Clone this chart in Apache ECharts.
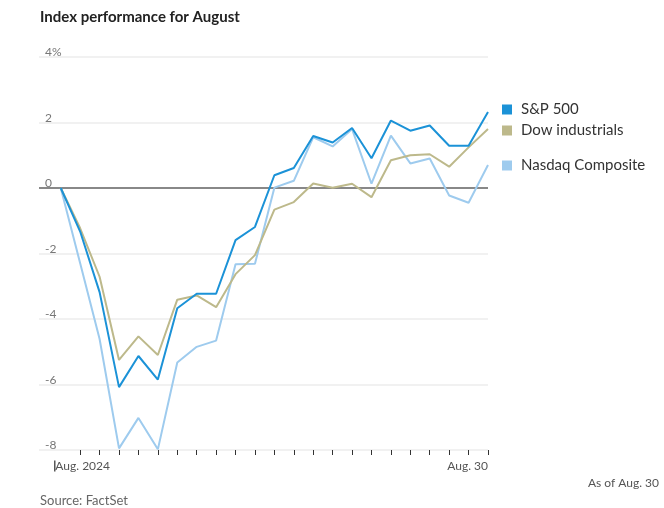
<!DOCTYPE html>
<html>
<head>
<meta charset="utf-8">
<script src="https://cdn.jsdelivr.net/npm/echarts@6/dist/echarts.min.js"></script>
<style>
html,body{margin:0;padding:0;background:#fff;}
#c{width:664px;height:508px;}
</style>
</head>
<body>
<div id="c"></div>
<script>
var dayIndex = [0,1,2,3,4,5,6,7,8,9,10,11,12,13,14,15,16,17,18,19,20,21,22];
var sp500 = [0,-1.33,-3.18,-6.08,-5.13,-5.85,-3.67,-3.23,-3.23,-1.59,-1.19,0.39,0.61,1.59,1.39,1.83,0.91,2.06,1.75,1.91,1.29,1.29,2.32];
var dow = [0,-1.23,-2.71,-5.25,-4.53,-5.10,-3.41,-3.28,-3.64,-2.63,-2.05,-0.66,-0.43,0.14,0.01,0.13,-0.28,0.85,1.00,1.03,0.65,1.24,1.80];
var nasdaq = [0,-2.30,-4.61,-7.95,-7.02,-7.98,-5.33,-4.85,-4.66,-2.33,-2.31,0.01,0.22,1.55,1.27,1.80,0.13,1.60,0.75,0.90,-0.23,-0.45,0.70];
var seriesNames = ['S&P 500','Dow industrials','Nasdaq Composite'];
var seriesColors = ['#1b92d7','#bdb98b','#9ecbee'];
var xTickValues = [1,2,3,4,5,6,7,8,9,10,11,12,13,14,15,16,17,18,19,20,21,22];
var startLabel = 'Aug. 2024';
var endLabel = 'Aug. 30';

var FONT = 'Lato,"Liberation Sans",sans-serif';

function pairs(arr){ return arr.map(function(v,i){ return [dayIndex[i], v]; }); }

var chart = echarts.init(document.getElementById('c'), null, {renderer:'canvas'});
var legendTops = [102, 123, 158];
var option = {
  animation: false,
  textStyle: {fontFamily: FONT},
  title: [{
    text: 'Index performance for August',
    left: 40, top: 10, padding: 0,
    textStyle: {fontFamily: FONT, fontSize: 15, fontWeight: 'bold', color: '#222'}
  },{
    text: 'Source: FactSet',
    left: 40, top: 494, padding: 0,
    textStyle: {fontFamily: FONT, fontSize: 13, fontWeight: 'normal', color: '#666'}
  },{
    text: 'As of Aug. 30',
    right: 5, top: 477, padding: 0,
    textStyle: {fontFamily: FONT, fontSize: 12, fontWeight: 'normal', color: '#555'}
  }],
  legend: seriesNames.map(function(n,i){
    return {
      data: [n], left: 502, top: legendTops[i], padding: 0,
      icon: 'rect', itemWidth: 10, itemHeight: 10,
      selectedMode: false,
      textStyle: {fontFamily: FONT, fontSize: 15, color: '#333', padding: [0,0,0,4]}
    };
  }),
  grid: {left: 39, right: 176, top: 57, bottom: 58},
  xAxis: [{
    type: 'value', min: -1.12, max: 22, position: 'bottom',
    splitLine: {show: false},
    axisLine: {show: false, onZero: false},
    axisTick: {show: true, customValues: xTickValues, length: 5, lineStyle: {color: '#333', width: 1}},
    axisLabel: {
      customValues: [-0.33], margin: 10,
      align: 'left',
      formatter: function(){ return '{bar|}' + startLabel; },
      rich: {bar: {width: 1, height: 11, backgroundColor: '#000'}},
      fontFamily: FONT, fontSize: 12, color: '#555'
    }
  },{
    type: 'value', min: -1.12, max: 22, position: 'bottom',
    splitLine: {show: false},
    axisLine: {show: false, onZero: false},
    axisTick: {show: false},
    axisLabel: {
      customValues: [22], margin: 10, align: 'right',
      formatter: function(){ return endLabel; },
      fontFamily: FONT, fontSize: 12, color: '#555'
    }
  }],
  yAxis: {
    type: 'value', min: -8, max: 4, interval: 2,
    axisLine: {show: false}, axisTick: {show: false},
    splitLine: {show: true, lineStyle: {color: '#ececec', width: 1.5}},
    axisLabel: {
      inside: true, margin: 6, verticalAlign: 'bottom', lineHeight: 9,
      fontFamily: FONT, fontSize: 12, color: '#777',
      formatter: function(v){ return v === 4 ? '4%' : String(v); }
    }
  },
  series: [
    {name: seriesNames[2], type: 'line', data: pairs(nasdaq), symbol: 'none', z: 2,
     lineStyle: {width: 2, color: seriesColors[2]}, itemStyle: {color: seriesColors[2]},
     markLine: {silent: true, symbol: 'none', label: {show: false},
       lineStyle: {color: '#888', width: 2, type: 'solid'}, data: [{yAxis: 0}], z: 1}},
    {name: seriesNames[1], type: 'line', data: pairs(dow), symbol: 'none', z: 3,
     lineStyle: {width: 2, color: seriesColors[1]}, itemStyle: {color: seriesColors[1]}},
    {name: seriesNames[0], type: 'line', data: pairs(sp500), symbol: 'none', z: 4,
     lineStyle: {width: 2, color: seriesColors[0]}, itemStyle: {color: seriesColors[0]}}
  ]
};
chart.setOption(option);
</script>
</body>
</html>
